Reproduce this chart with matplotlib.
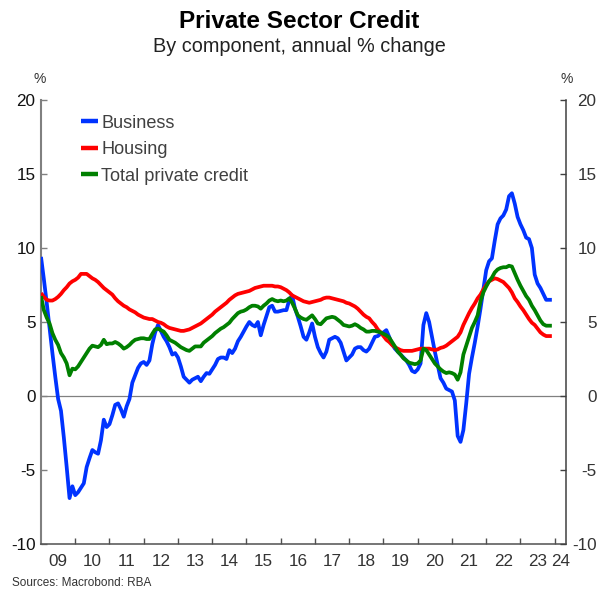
"""
Private sector credit by component, annual % change (monthly, 2009-2023).
"""

import numpy as np
import matplotlib
matplotlib.use("Agg")
import matplotlib.pyplot as plt

plt.rcParams['font.family'] = ['Liberation Sans', 'DejaVu Sans']
plt.rcParams['axes.unicode_minus'] = False

# Monthly observations, Jan 2009 .. Dec 2023
start_year = 2009

business = [
    9.4, 7.9, 6.3, 4.6, 2.9, 1.3, -0.2, -1.0, -2.8, -4.8, -6.9, -6.1,
    -6.7, -6.5, -6.2, -5.9, -4.8, -4.2, -3.65, -3.8, -3.9, -3.0, -1.6, -2.1,
    -1.9, -1.3, -0.6, -0.5, -0.9, -1.4, -0.7, -0.2, 0.9, 1.4, 1.9, 2.2,
    2.3, 2.1, 2.4, 3.5, 4.3, 4.8, 4.4, 4.0, 3.7, 3.3, 2.8, 2.9,
    2.6, 2.0, 1.3, 1.1, 0.9, 1.1, 1.2, 1.3, 1.0, 1.3, 1.55, 1.5,
    1.8, 2.1, 2.5, 2.6, 2.6, 2.5, 3.1, 2.9, 3.2, 3.7, 4.0, 4.35,
    4.7, 5.0, 4.8, 4.7, 5.0, 4.1, 4.8, 5.4, 6.0, 6.1, 5.7, 5.7,
    5.75, 5.8, 5.8, 6.5, 6.8, 5.9, 5.35, 4.7, 4.0, 3.8, 4.3, 4.9,
    4.0, 3.3, 2.9, 2.6, 3.0, 3.8, 3.9, 4.0, 3.9, 3.6, 3.0, 2.4,
    2.6, 2.8, 3.2, 3.3, 3.3, 3.1, 3.0, 3.2, 3.6, 4.0, 4.05, 4.2,
    4.3, 4.45, 4.0, 3.5, 3.2, 3.0, 2.8, 2.6, 2.4, 2.1, 1.7, 1.6,
    1.8, 2.2, 4.8, 5.6, 5.0, 4.0, 3.0, 2.1, 1.2, 0.9, 0.5, 0.4,
    0.3, -0.3, -2.7, -3.1, -2.3, -0.5, 1.5, 2.6, 3.6, 4.7, 5.9, 7.2,
    8.5, 9.1, 9.3, 10.5, 11.6, 12.0, 12.2, 12.6, 13.5, 13.7, 13.0, 12.1,
    11.6, 11.2, 10.7, 10.6, 10.0, 8.2, 7.6, 7.3, 6.9, 6.5, 6.5, 6.5,
]

housing = [
    6.95, 6.7, 6.5, 6.45, 6.45, 6.55, 6.7, 6.9, 7.15, 7.35, 7.6, 7.75,
    7.85, 8.0, 8.25, 8.25, 8.25, 8.1, 7.95, 7.85, 7.7, 7.5, 7.3, 7.15,
    7.0, 6.85, 6.6, 6.4, 6.25, 6.1, 6.0, 5.85, 5.75, 5.65, 5.5, 5.4,
    5.3, 5.25, 5.2, 5.2, 5.1, 5.0, 4.95, 4.85, 4.7, 4.6, 4.55, 4.5,
    4.45, 4.4, 4.4, 4.45, 4.5, 4.6, 4.7, 4.8, 4.9, 5.05, 5.2, 5.35,
    5.5, 5.7, 5.85, 6.0, 6.15, 6.3, 6.5, 6.65, 6.8, 6.9, 6.95, 7.0,
    7.05, 7.1, 7.2, 7.3, 7.35, 7.4, 7.45, 7.45, 7.45, 7.45, 7.4, 7.4,
    7.35, 7.25, 7.15, 7.0, 6.8, 6.7, 6.6, 6.5, 6.4, 6.35, 6.3, 6.35,
    6.4, 6.45, 6.5, 6.6, 6.65, 6.65, 6.6, 6.55, 6.5, 6.45, 6.4, 6.3,
    6.25, 6.15, 6.05, 5.9, 5.7, 5.5, 5.35, 5.25, 5.0, 4.8, 4.5, 4.3,
    4.05, 3.8, 3.65, 3.45, 3.3, 3.2, 3.1, 3.05, 3.05, 3.05, 3.05, 3.1,
    3.15, 3.2, 3.2, 3.2, 3.2, 3.15, 3.1, 3.15, 3.25, 3.3, 3.4, 3.55,
    3.7, 3.85, 4.0, 4.3, 4.8, 5.2, 5.6, 5.95, 6.25, 6.6, 6.85, 7.2,
    7.5, 7.75, 7.85, 7.95, 7.9, 7.8, 7.7, 7.5, 7.3, 7.0, 6.6, 6.35,
    6.05, 5.8, 5.5, 5.2, 4.95, 4.8, 4.55, 4.3, 4.15, 4.05, 4.05, 4.05,
]

total = [
    6.75, 5.8, 5.3, 4.9, 4.25, 3.8, 3.45, 2.9, 2.6, 2.2, 1.4, 1.85,
    1.8, 2.0, 2.3, 2.6, 2.9, 3.2, 3.4, 3.35, 3.3, 3.45, 3.8, 3.5,
    3.55, 3.55, 3.65, 3.55, 3.4, 3.2, 3.3, 3.45, 3.65, 3.8, 3.85, 3.9,
    3.9, 3.85, 3.85, 4.2, 4.5, 4.55, 4.45, 4.35, 4.1, 3.8, 3.7, 3.6,
    3.45, 3.3, 3.2, 3.1, 3.05, 3.2, 3.35, 3.35, 3.35, 3.6, 3.75, 3.9,
    4.05, 4.25, 4.4, 4.55, 4.65, 4.8, 4.95, 5.2, 5.4, 5.6, 5.7, 5.75,
    5.85, 6.0, 6.1, 6.1, 6.05, 5.9, 6.1, 6.25, 6.45, 6.55, 6.45, 6.4,
    6.45, 6.4, 6.45, 6.6, 6.3, 5.9, 5.45, 5.3, 5.2, 5.15, 5.3, 5.45,
    5.2, 4.9, 4.85, 5.05, 5.25, 5.3, 5.35, 5.3, 5.15, 5.0, 4.8, 4.75,
    4.7, 4.75, 4.85, 4.75, 4.6, 4.5, 4.35, 4.35, 4.4, 4.4, 4.35, 4.3,
    4.2, 4.1, 3.95, 3.65, 3.35, 3.0, 2.8, 2.55, 2.4, 2.25, 2.2, 2.15,
    2.2, 2.4, 3.2, 3.1, 2.8, 2.5, 2.2, 2.0, 1.8, 1.65, 1.55, 1.6,
    1.55, 1.45, 1.1, 1.6, 2.8, 3.4, 4.0, 4.6, 5.0, 5.45, 6.4, 7.0,
    7.4, 7.75, 8.0, 8.35, 8.55, 8.65, 8.7, 8.7, 8.8, 8.75, 8.3, 7.85,
    7.45, 7.1, 6.75, 6.5, 6.1, 5.8, 5.45, 5.1, 4.85, 4.75, 4.75, 4.75,
]

year_labels = ['09', '10', '11', '12', '13', '14', '15', '16', '17', '18',
               '19', '20', '21', '22', '23', '24']
y_ticks = [-10, -5, 0, 5, 10, 15, 20]

series_names = ['Business', 'Housing', 'Total private credit']
series_colors = ['#0033FF', '#FF0000', '#008000']


def main():
    t = start_year + np.arange(len(business)) / 12.0

    fig = plt.figure(figsize=(5.98, 5.90), dpi=100)
    ax = fig.add_axes([41 / 598, 1 - 544 / 590, (566 - 41) / 598, (544 - 100) / 590])

    ax.axhline(0, color='#808080', linewidth=0.9, zorder=1)

    for vals, name, col in zip([business, housing, total], series_names, series_colors):
        ax.plot(t, vals, color=col, linewidth=2.7, label=name,
                solid_capstyle='butt', zorder=3)

    ax.set_xlim(2009.0, 2024.33)
    ax.set_ylim(-10, 20)

    # spines
    ax.spines['top'].set_visible(False)
    ax.spines['left'].set_color('#808080')
    ax.spines['left'].set_linewidth(1.5)
    ax.spines['right'].set_color('#404040')
    ax.spines['right'].set_linewidth(1.1)
    ax.spines['bottom'].set_color('#505050')
    ax.spines['bottom'].set_linewidth(1.1)

    # x axis: ticks at year boundaries, labels mid-year
    ax.set_xticks(np.arange(2010, 2025))
    ax.set_xticklabels([])
    ax.tick_params(axis='x', which='major', direction='in', length=4,
                   width=1, color='#505050')
    label_pos = [start_year + i + 0.5 for i in range(len(year_labels) - 1)] + [2024.17]
    ax.set_xticks(label_pos, minor=True)
    ax.set_xticklabels(year_labels, minor=True)
    ax.tick_params(axis='x', which='minor', length=0, pad=7,
                   labelsize=12.3, labelcolor='#333333')

    # left y axis
    ax.set_yticks(y_ticks)
    ax.set_yticklabels([str(v) for v in y_ticks])
    ax.tick_params(axis='y', direction='in', length=4, width=1, color='#808080',
                   pad=4, labelsize=12.3, labelcolor='#111111')

    # right y axis, labels right-aligned against the figure edge
    ax2 = ax.twinx()
    ax2.set_ylim(-10, 20)
    ax2.set_yticks(y_ticks)
    ax2.set_yticklabels([str(v) for v in y_ticks])
    ax2.tick_params(axis='y', direction='in', length=4, width=1, color='#404040',
                    pad=22, labelsize=12.3, labelcolor='#333333')
    for lab in ax2.get_yticklabels():
        lab.set_horizontalalignment('right')
    for s in ['top', 'left', 'bottom', 'right']:
        ax2.spines[s].set_visible(False)

    leg = ax.legend(loc='upper left', bbox_to_anchor=(0.077, 0.967), frameon=False,
                    fontsize=13.1, handlelength=0.92, handletextpad=0.18,
                    labelspacing=0.52, borderaxespad=0, borderpad=0)
    for txt in leg.get_texts():
        txt.set_color('#404040')
    for line in leg.get_lines():
        line.set_linewidth(3.2)

    fig.text(0.5, 1 - 21 / 590, 'Private Sector Credit', ha='center', va='center',
             fontsize=17.5, fontweight='bold', color='#000000')
    fig.text(0.5, 1 - 47 / 590, 'By component, annual % change', ha='center',
             va='center', fontsize=14.3, color='#222222')
    fig.text(40 / 598, 1 - 79 / 590, '%', ha='center', va='center',
             fontsize=10, color='#333333')
    fig.text(567 / 598, 1 - 79 / 590, '%', ha='center', va='center',
             fontsize=10, color='#333333')
    fig.text(12 / 598, 1 - 583 / 590, 'Sources: Macrobond: RBA', ha='left',
             va='center', fontsize=8.5, color='#333333')

    fig.savefig('out.png', dpi=100)
    plt.close(fig)


if __name__ == "__main__":
    main()
